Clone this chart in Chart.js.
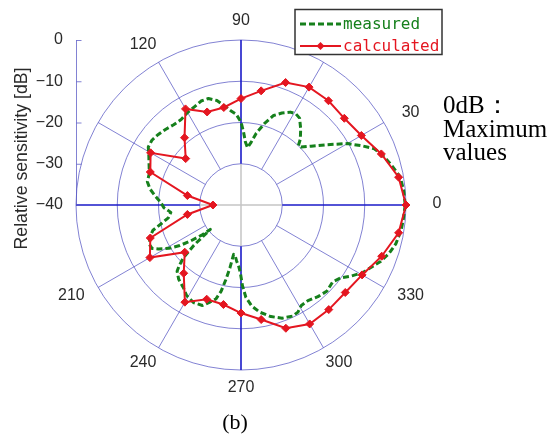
<!DOCTYPE html>
<html>
<head>
<meta charset="utf-8">
<script src="https://cdn.jsdelivr.net/npm/chart.js@4/dist/chart.umd.min.js"></script>
<style>
  html, body { margin: 0; padding: 0; background: #fff; }
  #wrap { position: relative; width: 554px; height: 435px; overflow: hidden; }
  #wrap canvas { position: absolute; left: 0; top: 0; }
  .note {
    position: absolute; left: 443px; top: 93px;
    font-family: "Liberation Serif", "Times New Roman", serif;
    font-size: 25px; line-height: 23.5px; color: #000; white-space: nowrap;
  }
  .cap {
    position: absolute; left: 205px; width: 60px; top: 410px; text-align: center;
    font-family: "Liberation Serif", "Times New Roman", serif;
    font-size: 22px; line-height: 24px; color: #000;
  }
</style>
</head>
<body>
<div id="wrap">
  <canvas id="chart" width="554" height="435"></canvas>
  <div class="note">0dB：<br>Maximum<br>values</div>
  <div class="cap">(b)</div>
</div>
<script>
// Radial scale: relative sensitivity in dB, centre = -40, rim = 0
const radialTicks = [0, -10, -20, -30, -40];
const angleTickLabels = [0, 30, 90, 120, 210, 240, 270, 300, 330];
const spokeAngles = [0, 30, 60, 90, 120, 150, 180, 210, 240, 270, 300, 330];

// Measured pattern (angle in degrees, level in dB)
const measuredAngles = [
  0, 5, 10, 15, 20, 23, 26, 30, 35, 40, 44, 46, 48, 52, 56, 59, 62, 66, 70, 74,
  78, 81, 83.5, 86, 88, 90, 93, 96, 99, 103, 107, 111, 115, 120, 125, 130, 135, 140, 144, 148,
  152, 156, 161, 166, 170, 174, 178, 182, 186, 190, 193, 196, 199, 203, 206, 208, 211, 213.5, 215.5, 217.5,
  218.5, 220.5, 222.5, 224.5, 226, 230, 235, 239, 244, 249, 252, 255, 257, 258.5, 260, 261.5, 263, 265.5, 268, 269.5,
  271, 273, 276, 280, 285, 290, 295, 298, 301, 305, 310, 315, 320, 324, 327, 331, 335, 338, 342, 346,
  351, 355
];
const measuredDb = [
  -0.2, -0.4, -0.8, -2.3, -3.8, -5.0, -7.3, -10.2, -14.5, -17.8, -19.8, -20.0, -18.5, -16.5, -14.6, -14.2, -14.5, -15.6, -16.9, -19.5,
  -22.2, -24.7, -26.0, -24.7, -22.3, -19.9, -18.0, -17.1, -15.8, -14.0, -13.0, -13.0, -13.6, -14.1, -14.7, -14.6, -14.1, -13.6, -13.3, -13.5,
  -14.7, -15.6, -16.5, -16.6, -17.6, -19.1, -20.5, -21.3, -22.9, -22.1, -20.3, -17.8, -16.7, -15.8, -16.0, -17.3, -19.6, -22.2, -25.0, -28.0,
  -30.5, -25.0, -21.0, -19.0, -17.7, -16.5, -15.6, -14.4, -13.7, -13.9, -15.2, -16.4, -18.5, -21.5, -24.5, -27.9, -27.8, -26.4, -25.0, -23.5,
  -20.5, -17.6, -15.4, -13.6, -12.0, -10.8, -10.3, -10.6, -11.6, -11.7, -11.0, -10.5, -11.0, -10.0, -8.3, -6.2, -4.8, -3.5, -2.2, -1.3,
  -0.7, -0.5
];

// Calculated pattern, every 10 degrees
const calculatedAngles = [
  0, 10, 20, 30, 40, 50, 60, 70, 80, 90, 100, 110, 120, 130, 140, 150, 160, 170,
  180, 190, 200, 210, 220, 230, 240, 250, 260, 270, 280, 290, 300, 310, 320, 330, 340, 350
];
const calculatedDb = [
  0, -1.2, -3.8, -6.3, -7.3, -7.0, -7.0, -8.4, -11.9, -14.2, -16.0, -16.0, -13.1, -18.7, -22.5, -14.7, -16.6, -26.8,
  -33.2, -26.8, -16.6, -14.5, -22.2, -18.4, -12.8, -15.7, -15.5, -13.8, -11.8, -8.2, -6.7, -6.9, -7.0, -6.1, -3.7, -1.2
];

const seriesNames = ['measured', 'calculated'];
const GREEN = '#16801c';
const RED = '#e41620';
const RING = 'rgba(88, 88, 196, 0.75)';
const AXIS = '#1a1ac8';
const TEXT = '#2a2a2a';

// Angular category grid: half-degree steps, 0 deg at 3 o'clock, counter-clockwise
const STEP = 0.5;
const N = Math.round(360 / STEP);
const gridLabels = Array.from({ length: N }, (_, i) => (360 - i * STEP) % 360);
const indexFor = deg => Math.round(((360 - deg) % 360) / STEP) % N;

function toSeries(angles, values) {
  const out = new Array(N).fill(null);
  angles.forEach((a, k) => { out[indexFor(a)] = values[k]; });
  return out;
}

const polarDecor = {
  id: 'polarDecor',
  beforeDatasetsDraw(chart) {
    const s = chart.scales.r;
    const ctx = chart.ctx;
    const rIn = s.getDistanceFromCenterForValue(-30);
    const rOut = s.getDistanceFromCenterForValue(0);
    const pt = (deg, d) => s.getPointPosition(indexFor(deg), d);
    const seg = (a, b) => { ctx.beginPath(); ctx.moveTo(a.x, a.y); ctx.lineTo(b.x, b.y); ctx.stroke(); };

    ctx.save();
    // thin spokes between inner ring and rim
    ctx.strokeStyle = RING;
    ctx.lineWidth = 1;
    spokeAngles.filter(d => d % 90 !== 0).forEach(d => seg(pt(d, rIn), pt(d, rOut)));

    // cross-hair inside the inner ring
    ctx.strokeStyle = '#c4c4c4';
    ctx.lineWidth = 1.5;
    seg(pt(180, rIn), pt(0, rIn));
    seg(pt(90, rIn), pt(270, rIn));

    // main axes
    ctx.strokeStyle = AXIS;
    ctx.lineWidth = 1.6;
    [0, 90, 180, 270].forEach(d => seg(pt(d, rIn), pt(d, rOut)));

    // radial value axis drawn on the left
    const xAxis = s.xCenter - rOut + 0.5;
    ctx.strokeStyle = RING;
    ctx.lineWidth = 1;
    ctx.beginPath();
    ctx.moveTo(xAxis, s.yCenter - rOut);
    ctx.lineTo(xAxis, s.yCenter);
    ctx.stroke();
    radialTicks.forEach(v => {
      const y = s.yCenter - s.getDistanceFromCenterForValue(v) + 0.5;
      ctx.beginPath();
      ctx.moveTo(xAxis, y);
      ctx.lineTo(xAxis + 5, y);
      ctx.stroke();
    });
    ctx.restore();
  },
  afterDraw(chart) {
    const s = chart.scales.r;
    const ctx = chart.ctx;
    const rOut = s.getDistanceFromCenterForValue(0);
    ctx.save();
    ctx.fillStyle = TEXT;
    ctx.font = '16px "Liberation Sans", Arial, sans-serif';

    // angle labels around the rim
    ctx.textAlign = 'center';
    ctx.textBaseline = 'middle';
    angleTickLabels.forEach(deg => {
      const rad = deg * Math.PI / 180;
      const x = s.xCenter + rOut * 1.187 * Math.cos(rad);
      const y = s.yCenter - rOut * 1.113 * Math.sin(rad) - 1;
      ctx.fillText(String(deg), x, y);
    });

    // radial tick labels
    ctx.textAlign = 'right';
    radialTicks.forEach(v => {
      const y = s.yCenter - s.getDistanceFromCenterForValue(v);
      ctx.fillText(String(v).replace('-', '\u2212'), s.xCenter - rOut - 13, y);
    });

    // radial axis title
    ctx.save();
    ctx.font = '17.7px "Liberation Sans", Arial, sans-serif';
    ctx.translate(22, 158.5);
    ctx.rotate(-Math.PI / 2);
    ctx.textAlign = 'center';
    ctx.fillText('Relative sensitivity [dB]', 0, 0);
    ctx.restore();

    // legend
    const box = { x: 295, y: 9.5, w: 147, h: 45 };
    ctx.fillStyle = '#fff';
    ctx.fillRect(box.x, box.y, box.w, box.h);
    ctx.strokeStyle = '#333';
    ctx.lineWidth = 1.5;
    ctx.strokeRect(box.x, box.y, box.w, box.h);
    ctx.font = '16px "DejaVu Sans Mono", monospace';
    ctx.textAlign = 'left';
    ctx.textBaseline = 'middle';
    chart.data.datasets.forEach((ds, i) => {
      const y = box.y + 14.5 + i * 22;
      ctx.save();
      ctx.strokeStyle = ds.borderColor;
      ctx.lineWidth = ds.borderWidth;
      ctx.setLineDash(ds.borderDash || []);
      ctx.beginPath();
      ctx.moveTo(box.x + 5, y);
      ctx.lineTo(box.x + 46, y);
      ctx.stroke();
      ctx.restore();
      if (ds.pointRadius) {
        ctx.fillStyle = ds.pointBackgroundColor;
        ctx.beginPath();
        ctx.moveTo(box.x + 25.5 - 4, y);
        ctx.lineTo(box.x + 25.5, y - 4);
        ctx.lineTo(box.x + 25.5 + 4, y);
        ctx.lineTo(box.x + 25.5, y + 4);
        ctx.closePath();
        ctx.fill();
      }
      ctx.fillStyle = ds.borderColor;
      ctx.fillText(ds.label, box.x + 48, y + 0.5);
    });
    ctx.restore();
  }
};

new Chart(document.getElementById('chart'), {
  type: 'radar',
  data: {
    labels: gridLabels,
    datasets: [
      {
        label: seriesNames[0],
        data: toSeries(measuredAngles, measuredDb),
        borderColor: GREEN,
        borderWidth: 3,
        borderDash: [6, 3],
        borderCapStyle: 'butt',
        borderJoinStyle: 'round',
        pointRadius: 0,
        fill: false,
        spanGaps: true,
        tension: 0,
        order: 1
      },
      {
        label: seriesNames[1],
        data: toSeries(calculatedAngles, calculatedDb),
        borderColor: RED,
        borderWidth: 2,
        pointStyle: 'rectRot',
        pointRadius: 4,
        pointBackgroundColor: RED,
        pointBorderColor: RED,
        pointBorderWidth: 1,
        fill: false,
        spanGaps: true,
        tension: 0,
        order: 0
      }
    ]
  },
  options: {
    responsive: false,
    animation: false,
    events: [],
    layout: { padding: { left: 76, right: 147, top: 40, bottom: 64 } },
    plugins: { legend: { display: false }, tooltip: { enabled: false } },
    scales: {
      r: {
        min: -40,
        max: 0,
        startAngle: 90,
        ticks: { display: false, stepSize: 10 },
        pointLabels: { display: false },
        angleLines: { display: false },
        grid: { circular: true, color: RING, lineWidth: 1 }
      }
    }
  },
  plugins: [polarDecor]
});
</script>
</body>
</html>
